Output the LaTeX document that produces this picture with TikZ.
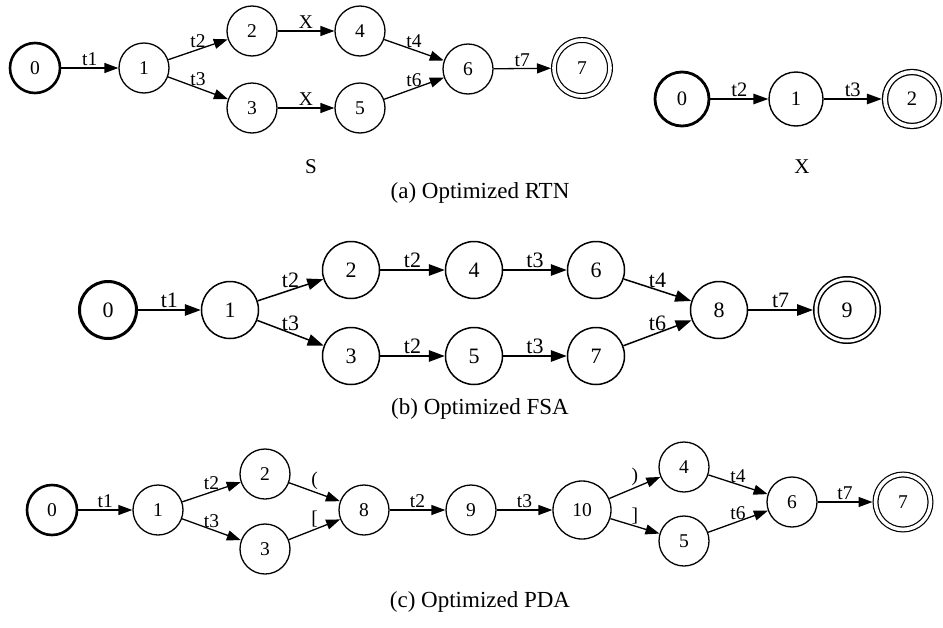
\documentclass[tikz,border=0pt]{standalone}
\usepackage{fontspec}
\setmainfont{Liberation Serif}
\usetikzlibrary{arrows.meta}
\begin{document}
\begin{tikzpicture}[x=1pt, y=-1pt,
        state/.style={circle, draw, line width=1.3pt, minimum size=50pt, inner sep=0pt, font=\fontsize{19.5}{20}\selectfont},
        start/.style={state, line width=2.6pt},
        final/.style={state, double, double distance=3.6pt, line width=1.2pt, minimum size=56pt, outer sep=3pt},
        trans/.style={-{Triangle[length=14pt, width=10pt]}, line width=1.3pt},
        lbl/.style={midway, above, inner sep=1.5pt, font=\fontsize{19.5}{20}\selectfont},
        caption/.style={inner sep=0pt, font=\fontsize{23}{24}\selectfont}
    ]
    \useasboundingbox (0,0) rectangle (943,627);

    % (a) network S
    \node[start] (s0) at (35,68) {0};
    \node[state] (s1) at (144,68) {1};
    \node[state] (s2) at (252,31) {2};
    \node[state] (s3) at (252,108) {3};
    \node[state] (s4) at (360,31) {4};
    \node[state] (s5) at (360,108) {5};
    \node[state] (s6) at (468,69) {6};
    \node[final] (s7) at (582,68) {7};
    \draw[trans] (s0) -- node[lbl] {t1} (s1);
    \draw[trans] (s1) -- node[lbl] {t2} (s2);
    \draw[trans] (s1) -- node[lbl] {t3} (s3);
    \draw[trans] (s2) -- node[lbl] {X} (s4);
    \draw[trans] (s3) -- node[lbl] {X} (s5);
    \draw[trans] (s4) -- node[lbl] {t4} (s6);
    \draw[trans] (s5) -- node[lbl] {t6} (s6);
    \draw[trans] (s6) -- node[lbl] {t7} (s7);
    \node[inner sep=0pt, font=\fontsize{21}{22}\selectfont] (sname) at (311,167) {S};

    % (a) network X
    \begin{scope}[state/.append style={minimum size=54pt, line width=1.4pt, font=\fontsize{20.5}{21}\selectfont},
            start/.append style={line width=2.8pt},
            final/.append style={minimum size=54pt, line width=1.3pt, double distance=3.8pt, outer sep=3.2pt},
            trans/.append style={-{Triangle[length=15pt, width=10.5pt]}, line width=1.4pt},
            lbl/.append style={font=\fontsize{20.5}{21}\selectfont}]
        \node[start] (x0) at (682,99) {0};
        \node[state] (x1) at (796,99) {1};
        \node[final] (x2) at (912,99) {2};
        \draw[trans] (x0) -- node[lbl] {t2} (x1);
        \draw[trans] (x1) -- node[lbl] {t3} (x2);
        \node[inner sep=0pt, font=\fontsize{21}{22}\selectfont] (xname) at (802,167) {X};
    \end{scope}
    \node[caption] (capa) at (480,193) {(a) Optimized RTN};

    % (b) FSA
    \begin{scope}[state/.append style={minimum size=57pt, line width=1.5pt, font=\fontsize{22}{23}\selectfont},
            start/.append style={line width=3pt},
            final/.append style={minimum size=62pt, line width=1.5pt, double distance=3pt, outer sep=3pt},
            trans/.append style={-{Triangle[length=16pt, width=11.5pt]}, line width=1.5pt},
            lbl/.append style={font=\fontsize{22}{23}\selectfont}]
        \node[start] (b0) at (108,310) {0};
        \node[state] (b1) at (230,310) {1};
        \node[state] (b2) at (351,270) {2};
        \node[state] (b3) at (351,356) {3};
        \node[state] (b4) at (474,270) {4};
        \node[state] (b5) at (474,356) {5};
        \node[state] (b6) at (596,270) {6};
        \node[state] (b7) at (596,356) {7};
        \node[state] (b8) at (719,310) {8};
        \node[final] (b9) at (847,310) {9};
        \draw[trans] (b0) -- node[lbl] {t1} (b1);
        \draw[trans] (b1) -- node[lbl] {t2} (b2);
        \draw[trans] (b1) -- node[lbl] {t3} (b3);
        \draw[trans] (b2) -- node[lbl] {t2} (b4);
        \draw[trans] (b3) -- node[lbl] {t2} (b5);
        \draw[trans] (b4) -- node[lbl] {t3} (b6);
        \draw[trans] (b5) -- node[lbl] {t3} (b7);
        \draw[trans] (b6) -- node[lbl] {t4} (b8);
        \draw[trans] (b7) -- node[lbl] {t6} (b8);
        \draw[trans] (b8) -- node[lbl] {t7} (b9);
    \end{scope}
    \node[caption] (capb) at (480,409) {(b) Optimized FSA};

    % (c) PDA
    \node[start] (c0) at (52,510) {0};
    \node[state] (c1) at (158,510) {1};
    \node[state] (c2) at (265,474) {2};
    \node[state] (c3) at (265,549) {3};
    \node[state] (c8) at (364,510) {8};
    \node[state] (c9) at (471,510) {9};
    \node[state, minimum size=58pt] (c10) at (582,510) {10};
    \node[state] (c4) at (684,467) {4};
    \node[state] (c5) at (684,541) {5};
    \node[state] (c6) at (792,502) {6};
    \node[final, minimum size=55pt] (c7) at (903,502) {7};
    \draw[trans] (c0) -- node[lbl] {t1} (c1);
    \draw[trans] (c1) -- node[lbl] {t2} (c2);
    \draw[trans] (c1) -- node[lbl] {t3} (c3);
    \draw[trans] (c2) -- node[lbl] {(} (c8);
    \draw[trans] (c3) -- node[lbl] {[} (c8);
    \draw[trans] (c8) -- node[lbl] {t2} (c9);
    \draw[trans] (c9) -- node[lbl] {t3} (c10);
    \draw[trans] (c10) -- node[lbl] {)} (c4);
    \draw[trans] (c10) -- node[lbl] {]} (c5);
    \draw[trans] (c4) -- node[lbl] {t4} (c6);
    \draw[trans] (c5) -- node[lbl] {t6} (c6);
    \draw[trans] (c6) -- node[lbl] {t7} (c7);
    \node[caption] (capc) at (480,602) {(c) Optimized PDA};
\end{tikzpicture}
\end{document}
